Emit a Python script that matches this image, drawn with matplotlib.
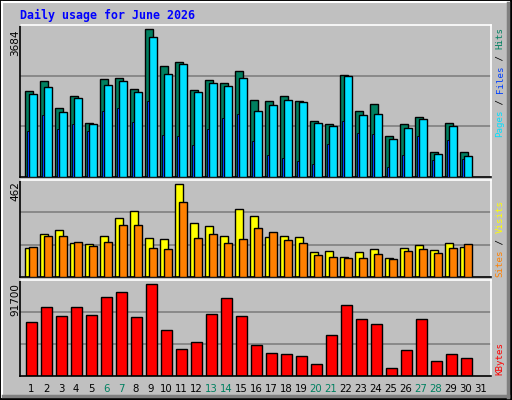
import matplotlib
matplotlib.use("Agg")
import matplotlib.pyplot as plt
from matplotlib.patches import Rectangle
import numpy as np

days = list(range(1, 32))
hits = [2134,2384,1734,2009,1359,2434,2459,2184,3684,2759,2859,2159,2409,2334,2634,1909,1884,2009,1884,1409,1334,2534,1659,1809,1034,1334,1509,634,1359,634]
files = [2059,2234,1634,1959,1334,2284,2384,2109,3484,2559,2809,2109,2334,2259,2459,1659,1784,1909,1859,1359,1284,2509,1559,1584,959,1234,1459,583,1284,533]
pages = [1159,1559,1209,1334,1159,1659,1734,1384,1884,1059,1034,808,1209,1484,1584,908,558,483,408,333,833,1409,1109,1084,258,558,1034,433,934,458]
sites = [146,216,236,171,166,206,296,331,196,191,462,271,256,206,341,306,201,206,201,126,131,100,126,141,95,146,161,136,171,151]
visits = [151,206,206,176,156,176,261,261,146,141,372,196,216,171,191,246,226,186,171,110,100,95,95,116,90,131,141,121,146,166]
kbytes = [53410,68520,59450,68520,60460,78600,83640,58450,91700,46350,27210,34260,61470,77590,59450,31240,23180,22170,20150,12090,41310,70540,56430,51390,8060,26200,56430,15120,22170,18140]
weekends = [6, 7, 13, 14, 20, 21, 27, 28]

W, H = 512, 400
BG = "#C0C0C0"
fig = plt.figure(figsize=(W/100, H/100), dpi=100)
fig.patch.set_facecolor(BG)

def fx(px): return px / W
def fy(py): return 1 - py / H

# border / bevel
ov = fig.add_axes([0, 0, 1, 1]); ov.set_xlim(0, W); ov.set_ylim(H, 0); ov.axis("off")
ov.add_patch(Rectangle((0, 0), W-1, H-1, fill=False, ec="black", lw=1.5))
ov.plot([2, W-3], [2, 2], color="white", lw=1.5)
ov.plot([2, 2], [2, H-3], color="white", lw=1.5)
ov.plot([W-4, W-4], [3, H-3], color="#808080", lw=2.5)
ov.plot([3, W-4], [H-4, H-4], color="#808080", lw=2.5)

mono = "DejaVu Sans Mono"
ov.text(20, 15, "Daily usage for June 2026", color="#0000FF", fontsize=8.4,
        fontweight="bold", family=mono, va="center", ha="left")

L, R = 20, 491
xl = (1 - 11/15, 1 + (R - 31) / 15)

def panel(top, bot):
    ax = fig.add_axes([fx(L), fy(bot), fx(R - L), (bot - top) / H])
    ax.set_facecolor(BG)
    ax.set_xlim(*xl)
    ax.set_xticks([]); ax.set_yticks([])
    for s in ax.spines.values():
        s.set_color("white"); s.set_linewidth(1.2)
    ax.spines["bottom"].set_color("black"); ax.spines["left"].set_color("black")
    return ax

def grid(ax, top):
    for f in (1/3, 2/3):
        ax.axhline(top * f, color="#808080", lw=1.2, zorder=0)

x = np.array(days[:30])
bk = dict(edgecolor="black", linewidth=1.0, align="edge")

ax1 = panel(25, 177)
t1 = 3684 * 455 / 442
ax1.set_ylim(0, t1); grid(ax1, t1)
ax1.bar(x - 0.38, hits, 0.49, color="#008060", **bk, zorder=2)
ax1.bar(x - 0.11, files, 0.49, color="#00E0FF", **bk, zorder=3)
ax1.bar(x - 0.30, pages, 0.17, color="#0040FF", edgecolor="black", linewidth=0.6, align="edge", zorder=4)

ax2 = panel(180, 277)
t2 = 462 * 289 / 276
ax2.set_ylim(0, t2); grid(ax2, t2)
ax2.bar(x - 0.38, sites, 0.49, color="#FFFF00", **bk, zorder=2)
ax2.bar(x - 0.11, visits, 0.49, color="#FF8000", **bk, zorder=3)

ax3 = panel(280, 376)
t3 = 91700 * 285 / 273
ax3.set_ylim(0, t3); grid(ax3, t3)
ax3.bar(x - 0.32, kbytes, 0.69, color="#FF0000", **bk, zorder=2)

# left max labels
for val, ytop in ((hits[8], 29), (max(sites), 181), (max(kbytes), 283)):
    ov.text(15, ytop, str(val), rotation=90, fontsize=7.5, family="DejaVu Sans",
            va="top", ha="center", color="black")

# day labels
for d in days:
    px = 31 + (d - 1) * 15
    ov.text(px, 389, str(d), fontsize=7.3, ha="center", va="center",
            color="#008060" if d in weekends else "black")

# right legends
cw = 5.5
fsz = cw / (0.602 * 100 / 72)
def vlabel(parts, ybot):
    off = 0
    for txt, col in parts:
        ov.text(500, ybot - off * cw, txt, rotation=90, fontsize=fsz, family=mono,
                color=col, va="bottom", ha="center")
        off += len(txt)

vlabel([("Pages", "#00E0FF"), (" / ", "#000000"), ("Files", "#0040FF"),
        (" / ", "#000000"), ("Hits", "#008060")], 137)
vlabel([("Sites", "#FF8000"), (" / ", "#000000"), ("Visits", "#FFFF00")], 277)
vlabel([("KBytes", "#FF0000")], 375)

fig.savefig("out.png", dpi=100, facecolor=BG)
